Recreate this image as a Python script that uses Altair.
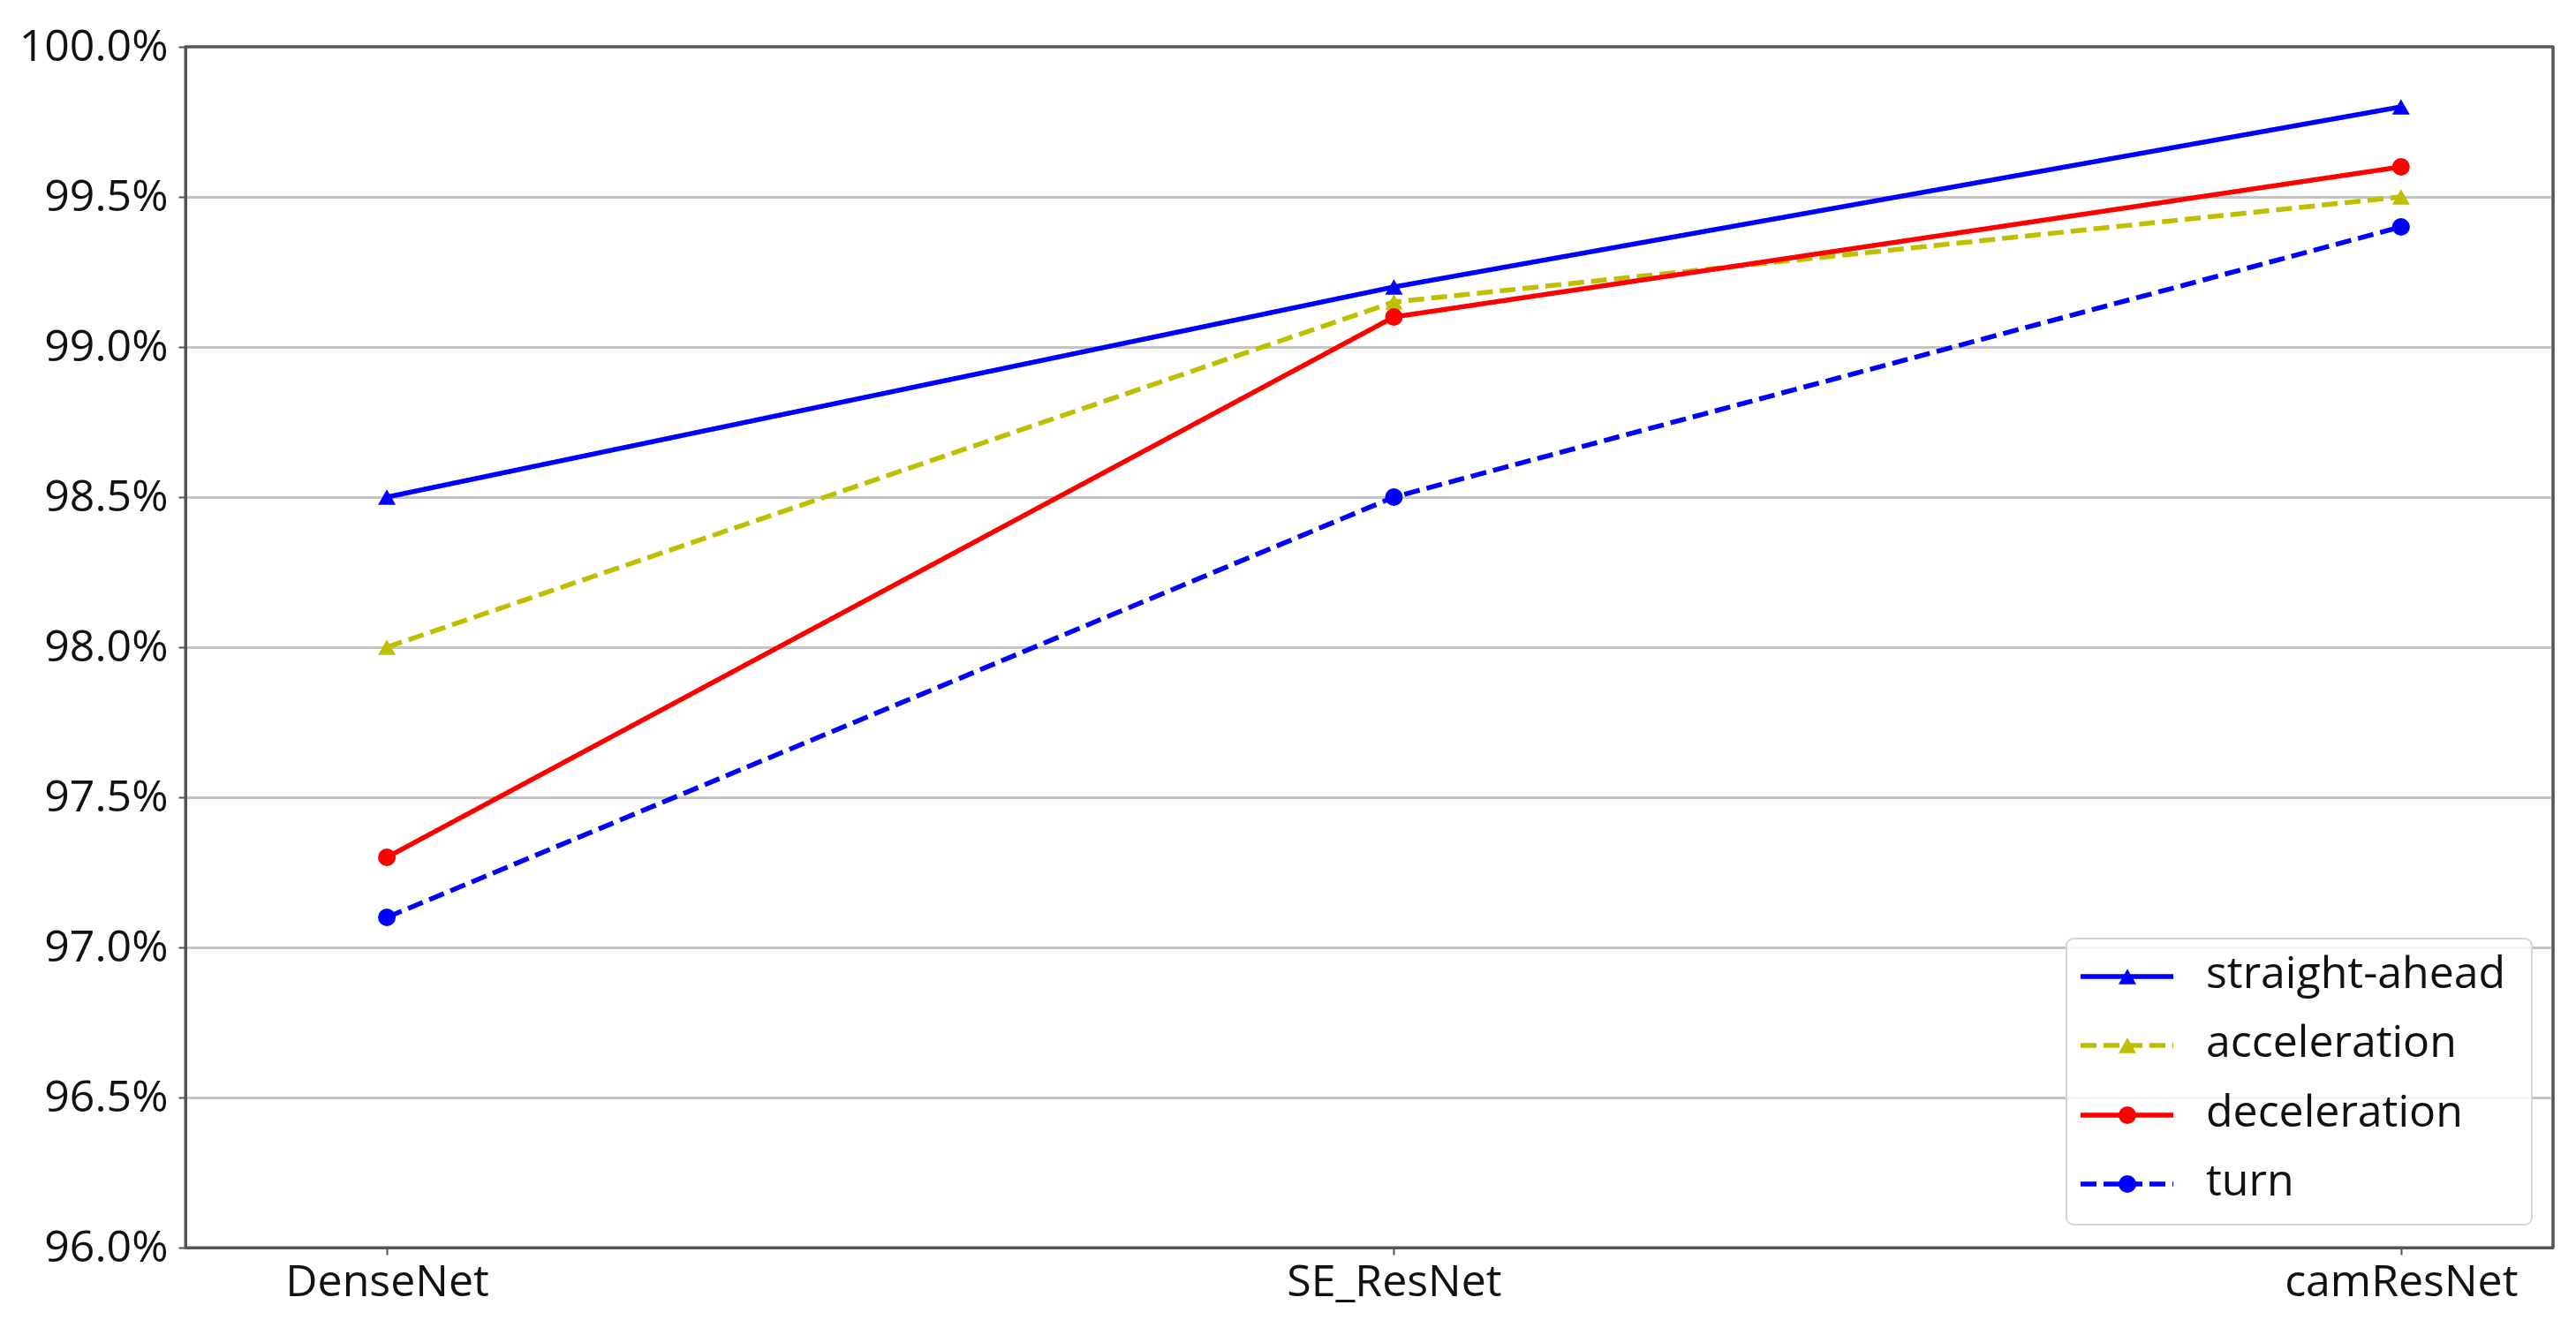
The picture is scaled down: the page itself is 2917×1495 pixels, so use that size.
import altair as alt
import pandas as pd

models = ["DenseNet", "SE_ResNet", "camResNet"]
series = ["straight-ahead", "acceleration", "deceleration", "turn"]
straight_ahead = [0.985, 0.992, 0.998]
acceleration = [0.980, 0.9915, 0.995]
deceleration = [0.973, 0.991, 0.996]
turn = [0.971, 0.985, 0.994]
y_ticks = [0.96, 0.965, 0.97, 0.975, 0.98, 0.985, 0.99, 0.995, 1.0]

colors = ["#0000ff", "#bfbf00", "#ff0000", "#0000ff"]
dashes = [[1, 0], [18, 8], [1, 0], [18, 8]]
shapes = ["triangle-up", "triangle-up", "circle", "circle"]

values = [straight_ahead, acceleration, deceleration, turn]
rows = []
for s, vals in zip(series, values):
    for i, (m, v) in enumerate(zip(models, vals)):
        rows.append({"series": s, "idx": i, "model": m, "acc": v})
df = pd.DataFrame(rows)

W, H = 2681, 1360
FONT = "Open Sans"
LW = 5.5
MS = 400

label_expr = "[" + ",".join("'%s'" % m for m in models) + "][datum.value]"

x_enc = alt.X(
    "idx:Q",
    scale=alt.Scale(domain=[-0.2, 2.151], nice=False, zero=False),
    axis=alt.Axis(values=[0, 1, 2], labelExpr=label_expr, grid=False, title=None,
                  tickSize=8, tickWidth=2, tickColor="#555555", domainColor="#555555",
                  domainWidth=3, labelFontSize=50, labelFont=FONT, labelColor="#111111",
                  labelPadding=6, labelLimit=0),
)
y_enc = alt.Y(
    "acc:Q",
    scale=alt.Scale(domain=[0.96, 1.0], nice=False, zero=False),
    axis=alt.Axis(values=y_ticks, format=".1%", title=None, tickSize=8, tickWidth=2,
                  tickColor="#555555", domainColor="#555555", domainWidth=3,
                  labelFontSize=50, labelFont=FONT, labelColor="#111111", labelPadding=12,
                  labelLimit=0, gridColor="#c4c4c4", gridWidth=3,
                  gridOpacity={"condition": {"test": "datum.value > 0.9995 || datum.value < 0.9605", "value": 0}, "value": 1}),
)
color_enc = alt.Color("series:N", scale=alt.Scale(domain=series, range=colors), legend=None)

lines = alt.Chart(df).mark_line(strokeWidth=LW).encode(
    x=x_enc, y=y_enc, color=color_enc,
    strokeDash=alt.StrokeDash("series:N", scale=alt.Scale(domain=series, range=dashes), legend=None),
    detail="series:N",
)
points = alt.Chart(df).mark_point(filled=True, size=MS, opacity=1).encode(
    x="idx:Q", y="acc:Q", color=color_enc,
    shape=alt.Shape("series:N", scale=alt.Scale(domain=series, range=shapes), legend=None),
)

# top and right frame lines
frame = alt.Chart(pd.DataFrame({"a": [0]})).mark_rule(color="#555555", strokeWidth=3)
frame_top = frame.encode(x=alt.value(0), x2=alt.value(W), y=alt.value(0))
frame_right = frame.encode(x=alt.value(W), y=alt.value(0), y2=alt.value(H))

# manual legend (matplotlib style)
legend_layers = []
box = alt.Chart(pd.DataFrame({"a": [0]})).mark_rect(
    fill="white", fillOpacity=0.8, stroke="#d6d6d6", strokeWidth=2, cornerRadius=8
).encode(x=alt.value(2130), x2=alt.value(2657), y=alt.value(1010), y2=alt.value(1334))
legend_layers.append(box)
row_y = [1053, 1131, 1210, 1288]
for s, c, d, sh, yy in zip(series, colors, dashes, shapes, row_y):
    ldf = pd.DataFrame({"label": [s]})
    legend_layers.append(
        alt.Chart(ldf).mark_rule(color=c, strokeWidth=LW, strokeDash=d).encode(
            x=alt.value(2146), x2=alt.value(2251), y=alt.value(yy))
    )
    legend_layers.append(
        alt.Chart(ldf).mark_point(filled=True, size=MS, opacity=1, color=c, shape=sh).encode(
            x=alt.value(2199), y=alt.value(yy))
    )
    legend_layers.append(
        alt.Chart(ldf).mark_text(align="left", baseline="middle", fontSize=50, font=FONT,
                                 color="#111111", dy=-2).encode(
            x=alt.value(2288), y=alt.value(yy), text="label:N")
    )

chart = alt.layer(lines, points, frame_top, frame_right, *legend_layers).properties(
    width=W, height=H,
    autosize=alt.AutoSizeParams(type="none"),
    padding={"left": 202, "top": 45, "right": 10, "bottom": 100},
).configure(background="white", view=alt.ViewConfig(stroke="#555555", strokeWidth=3))

chart.save("out.html", embed_options={"renderer": "svg", "actions": False})
